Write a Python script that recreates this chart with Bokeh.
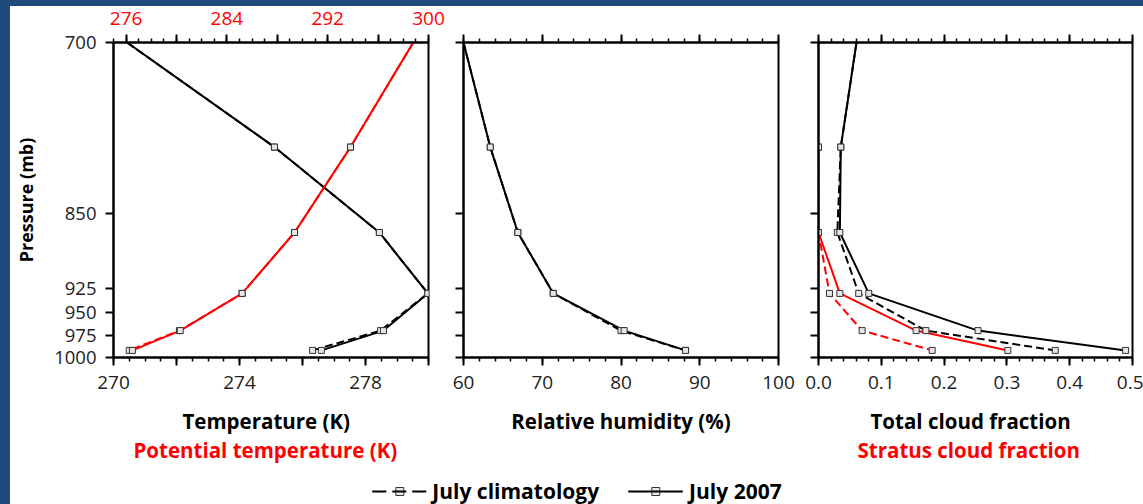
import numpy as np
from bokeh.plotting import figure
from bokeh.models import (Range1d, LinearAxis, FixedTicker, Title, Legend, LegendItem,
                          NumeralTickFormatter, CustomJSTickFormatter, Div)
from bokeh.layouts import row, column
from bokeh.embed import file_html
from bokeh.resources import INLINE

# ---------------- data ----------------
levels = [700, 788, 868, 930, 970, 992]            # pressure levels (mb)
temp_clim = [270.43, 275.11, 278.44, 279.98, 278.48, 276.32]
temp_2007 = [270.43, 275.11, 278.44, 279.98, 278.57, 276.60]
theta_clim = [298.79, 293.81, 289.37, 285.21, 280.24, 276.25]
theta_2007 = [298.79, 293.81, 289.37, 285.21, 280.30, 276.50]
rh_clim = [60.0, 63.4, 66.9, 71.4, 80.0, 88.2]
rh_2007 = [60.0, 63.4, 66.9, 71.4, 80.4, 88.2]
cld_clim = [0.0605, 0.0355, 0.030, 0.064, 0.171, 0.377]
cld_2007 = [0.0605, 0.0355, 0.034, 0.080, 0.254, 0.489]
strat_levels = [788, 868, 930, 970, 992]
strat_clim = [0.0, 0.0, 0.0175, 0.0695, 0.181]
strat_2007 = [0.0, 0.0, 0.034, 0.1555, 0.3015]

p_ticks = [700, 850, 925, 950, 975, 1000]
temp_ticks = [270, 272, 274, 276, 278, 280]
temp_labels = [270, 274, 278]
theta_ticks = [276, 280, 284, 288, 292, 296, 300]
theta_labels = [276, 284, 292, 300]
rh_ticks = [60, 70, 80, 90, 100]
cld_ticks = [0.0, 0.1, 0.2, 0.3, 0.4, 0.5]

FONT = "Open Sans"
BLUE = "#1F497D"
RED = "#FF0000"
TICK_FS = "19px"
TITLE_FS = "20.5px"


def style_axis(ax, labels=True, standoff=10):
    ax.axis_line_width = 2
    ax.axis_line_color = "black"
    ax.major_tick_line_width = 2
    ax.minor_tick_line_width = 1.5
    ax.major_tick_line_color = "black"
    ax.minor_tick_line_color = "black"
    ax.major_tick_out = 8
    ax.major_tick_in = 0
    ax.minor_tick_out = 4
    ax.minor_tick_in = 0
    ax.major_label_text_font = FONT
    ax.major_label_text_font_size = TICK_FS
    ax.major_label_text_color = "#222222"
    ax.major_label_standoff = standoff
    if not labels:
        ax.formatter = CustomJSTickFormatter(code="return ''")


def make_panel(xr, width, left, right):
    p = figure(width=width, height=471, x_range=xr, y_range=Range1d(1000, 700),
               y_axis_type="log", output_backend="svg", toolbar_location=None,
               min_border_left=left, min_border_right=right,
               min_border_top=36, min_border_bottom=120)
    p.grid.visible = False
    p.outline_line_color = "black"
    p.outline_line_width = 2
    p.background_fill_color = "white"
    p.border_fill_color = "white"
    ya = p.yaxis[0]
    ya.ticker = FixedTicker(ticks=p_ticks, minor_ticks=[])
    ya.formatter = NumeralTickFormatter(format="0")
    return p


def add_titles(p, black, red, off_black, off_red):
    align = "center" if off_black is None else "left"
    t1 = Title(text=black, align=align, offset=off_black or 0, text_font=FONT,
               text_font_size=TITLE_FS, text_font_style="bold", text_color="black",
               standoff=26)
    p.add_layout(t1, "below")
    if red:
        t2 = Title(text=red, align="left", offset=off_red, text_font=FONT,
                   text_font_size=TITLE_FS, text_font_style="bold", text_color=RED,
                   standoff=-33)
        p.add_layout(t2, "below")


def profile(p, xs, ys, color, dash, **extra):
    kw = dict(line_color=color, line_width=2)
    if dash:
        kw["line_dash"] = "8 4"
    kw.update(extra)
    p.line(xs, ys, **kw)


def markers(p, xs, ys, **extra):
    p.scatter(xs, ys, marker="square", size=6, line_color="#333333",
              fill_color="#e6e6e6", line_width=1, **extra)


# ---------------- panel 1: temperature / potential temperature ----------------
p1 = make_panel(Range1d(270, 280), 435, 103, 17)
p1.extra_x_ranges = {"theta": Range1d(275, 300)}
style_axis(p1.xaxis[0])
p1.xaxis[0].ticker = FixedTicker(ticks=temp_ticks, minor_ticks=list(np.arange(270, 280.01, 0.5)))
p1.xaxis[0].major_label_overrides = {t: "" for t in temp_ticks if t not in temp_labels}
style_axis(p1.yaxis[0], standoff=9)
p1.yaxis[0].major_label_text_font_size = "18.5px"
p1.yaxis[0].axis_label = "Pressure (mb)"
p1.yaxis[0].axis_label_text_font = FONT
p1.yaxis[0].axis_label_text_font_size = "18px"
p1.yaxis[0].axis_label_text_font_style = "bold"
p1.yaxis[0].axis_label_text_color = "black"
p1.yaxis[0].axis_label_standoff = 13
top1 = LinearAxis(x_range_name="theta",
                  ticker=FixedTicker(ticks=theta_ticks, minor_ticks=list(range(275, 301))))
style_axis(top1, standoff=10)
top1.major_label_text_color = RED
top1.major_label_overrides = {t: "" for t in theta_ticks if t not in theta_labels}
p1.add_layout(top1, "above")

profile(p1, temp_clim, levels, "black", True)
profile(p1, temp_2007, levels, "black", False)
markers(p1, temp_clim[1:], levels[1:])
markers(p1, temp_2007[1:], levels[1:])
profile(p1, theta_clim, levels, RED, True, x_range_name="theta")
profile(p1, theta_2007, levels, RED, False, x_range_name="theta")
markers(p1, theta_clim[1:], levels[1:], x_range_name="theta")
markers(p1, theta_2007[1:], levels[1:], x_range_name="theta")
add_titles(p1, "Temperature (K)", "Potential temperature (K)", 69, 20)

# ---------------- panel 2: relative humidity ----------------
p2 = make_panel(Range1d(60, 100), 355, 18, 22)
style_axis(p2.xaxis[0])
p2.xaxis[0].ticker = FixedTicker(ticks=rh_ticks, minor_ticks=list(range(60, 101, 2)))
style_axis(p2.yaxis[0], labels=False)
top2 = LinearAxis(ticker=FixedTicker(ticks=rh_ticks, minor_ticks=list(range(60, 101, 2))))
style_axis(top2, labels=False)
p2.add_layout(top2, "above")
profile(p2, rh_clim, levels, "black", True)
profile(p2, rh_2007, levels, "black", False)
markers(p2, rh_clim[1:], levels[1:])
markers(p2, rh_2007[1:], levels[1:])
add_titles(p2, "Relative humidity (%)", None, None, None)

# ---------------- panel 3: cloud fraction ----------------
p3 = make_panel(Range1d(0, 0.5), 343, 18, 11)
cld_minor = [round(i * 0.02, 2) for i in range(26)]
style_axis(p3.xaxis[0])
p3.xaxis[0].ticker = FixedTicker(ticks=cld_ticks, minor_ticks=cld_minor)
p3.xaxis[0].formatter = NumeralTickFormatter(format="0.0")
style_axis(p3.yaxis[0], labels=False)
top3 = LinearAxis(ticker=FixedTicker(ticks=cld_ticks, minor_ticks=cld_minor))
style_axis(top3, labels=False)
p3.add_layout(top3, "above")
profile(p3, strat_clim, strat_levels, RED, True)
profile(p3, strat_2007, strat_levels, RED, False)
profile(p3, cld_clim, levels, "black", True)
profile(p3, cld_2007, levels, "black", False)
markers(p3, strat_clim, strat_levels)
markers(p3, strat_2007, strat_levels)
markers(p3, cld_clim[1:], levels[1:])
markers(p3, cld_2007[1:], levels[1:])
add_titles(p3, "Total cloud fraction", "Stratus cloud fraction", 52, 39)

# ---------------- legend strip ----------------
leg = figure(width=1133, height=27, x_range=Range1d(0, 1), y_range=Range1d(0, 1),
             output_backend="svg", toolbar_location=None, min_border=0,
             x_axis_location=None, y_axis_location=None)
leg.grid.visible = False
leg.outline_line_color = None
leg.border_fill_color = "white"
s1 = leg.scatter(rh_clim, levels, marker="square", size=6, line_color="#333333",
                 fill_color="#e6e6e6", line_width=1)
l1 = leg.line(rh_clim, levels, line_color="black", line_width=2, line_dash="14 6")
s2 = leg.scatter(rh_2007, levels, marker="square", size=6, line_color="#333333",
                 fill_color="#e6e6e6", line_width=1)
l2 = leg.line(rh_2007, levels, line_color="black", line_width=2)
legend = Legend(items=[LegendItem(label="July climatology", renderers=[s1, l1]),
                       LegendItem(label="July 2007", renderers=[s2, l2])],
                location="center", orientation="horizontal", glyph_width=55,
                glyph_height=20, label_standoff=6, spacing=29, padding=0, margin=0,
                border_line_color=None, background_fill_alpha=0,
                label_text_font=FONT, label_text_font_size="21px",
                label_text_font_style="bold", label_text_color="black")
leg.add_layout(legend, "center")

# ---------------- decorative blue frame strips ----------------
top_strip = Div(text="", width=1143, height=6, margin=0,
                styles={"background-color": BLUE})
left_strip = Div(text="", width=10, height=498, margin=0,
                 styles={"background-color": BLUE})

layout = column(top_strip, row(left_strip, column(row(p1, p2, p3), leg)))
open("out.html", "w").write(file_html(layout, INLINE))
